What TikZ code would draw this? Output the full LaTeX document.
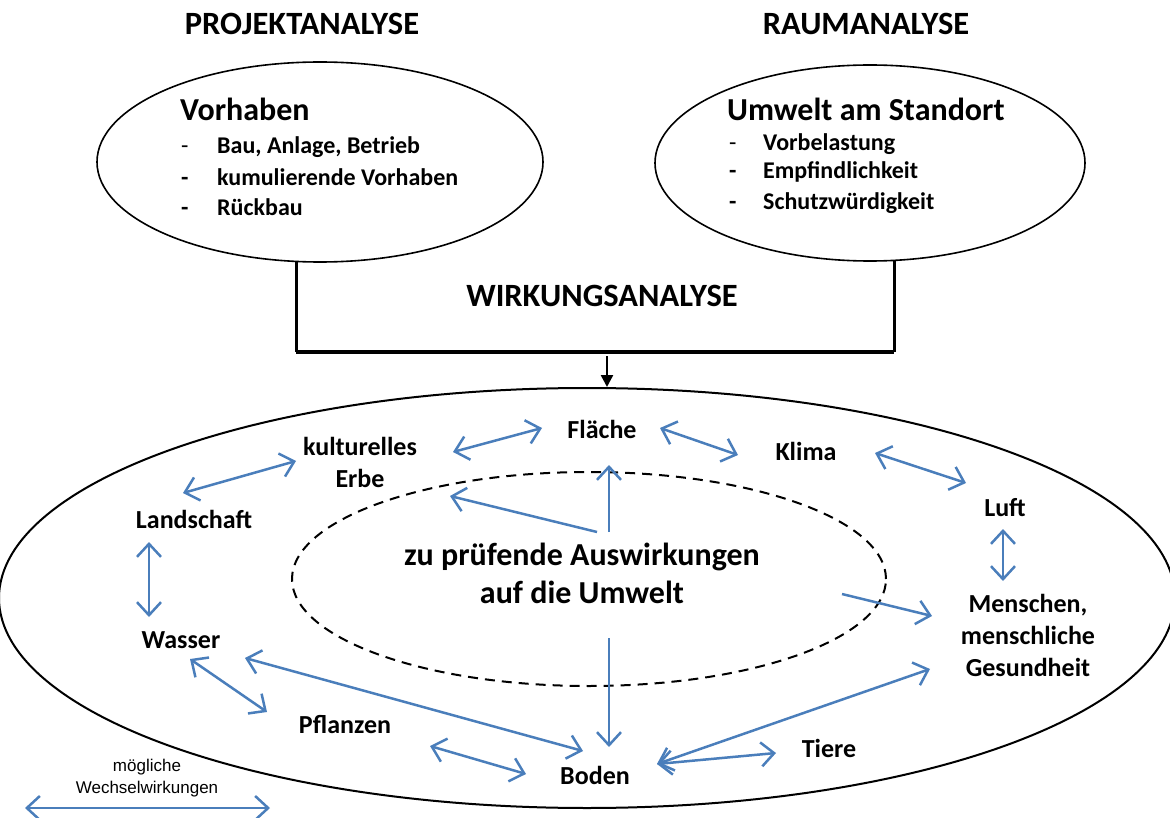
\documentclass[tikz,border=0pt]{standalone}
\usepackage{fontspec}
\setmainfont{Carlito}
\newfontfamily\arialf{Liberation Sans}
\usetikzlibrary{shapes.geometric,arrows.meta}
\definecolor{wblue}{RGB}{74,126,187}
\begin{document}
\begin{tikzpicture}[x=1pt,y=-1pt,
  title/.style={font=\bfseries\fontsize{32.5}{36}\selectfont, inner sep=0pt},
  head/.style={font=\bfseries\fontsize{32}{36}\selectfont, anchor=base west, inner sep=0pt},
  item/.style={font=\bfseries\fontsize{24}{28}\selectfont, anchor=base west, inner sep=0pt},
  lbl/.style={font=\bfseries\fontsize{26}{32}\selectfont, align=center, inner sep=0pt},
  big/.style={font=\bfseries\fontsize{32}{38}\selectfont, align=center, inner sep=0pt},
  legend/.style={font=\arialf\fontsize{17}{22}\selectfont, align=center, inner sep=0pt},
  oval/.style={draw=black, ellipse, inner sep=0pt},
  wa/.style={draw=wblue, line width=2.5pt, {Straight Barb[length=13pt,width=24pt]}-{Straight Barb[length=13pt,width=24pt]}},
  wone/.style={draw=wblue, line width=2.5pt, -{Straight Barb[length=13pt,width=24pt]}},
]
\useasboundingbox (0,0) rectangle (1170,818);

% titles
\node[title] (pa) at (302,24) {PROJEKTANALYSE};
\node[title] (ra) at (866,24) {RAUMANALYSE};

% top ellipses
\node[oval, line width=1.6pt, minimum width=446pt, minimum height=200pt] (vorh) at (320,162) {};
\node[oval, line width=1.6pt, minimum width=430pt, minimum height=196pt] (umw) at (870,163) {};

\node[head] (vh) at (180,121) {Vorhaben};
\node[item, font=\fontsize{24}{28}\selectfont] (vd1) at (181,154) {-};
\node[item] (vd2) at (181,186) {-};
\node[item] (vd3) at (181,216) {-};
\node[item] (v1) at (217,154) {Bau, Anlage, Betrieb};
\node[item] (v2) at (217,186) {kumulierende Vorhaben};
\node[item] (v3) at (217,216) {Rückbau};

\node[head] (uh) at (727,121) {Umwelt am Standort};
\node[item, font=\fontsize{24}{28}\selectfont] (ud1) at (729,151) {-};
\node[item] (ud2) at (729,179) {-};
\node[item] (ud3) at (729,210) {-};
\node[item] (u1) at (763,151) {Vorbelastung};
\node[item] (u2) at (763,179) {Empfindlichkeit};
\node[item] (u3) at (763,210) {Schutzwürdigkeit};

% bracket
\coordinate (bl) at (296,261);
\coordinate (br) at (894,260);
\coordinate (bbl) at (296,352);
\coordinate (bbr) at (894,352);
\draw[line width=3pt] (bl) -- (bbl);
\draw[line width=3pt] (br) -- (bbr);
\draw[line width=4pt] (bbl) -- (bbr);
\node[title] (wa) at (602,296) {WIRKUNGSANALYSE};

% big ellipse
\node[oval, line width=2pt, minimum width=1176pt, minimum height=420pt] (env) at (587,598) {};
\coordinate (ws) at (607,356);
\draw[line width=2.5pt, -{Triangle[length=12pt,width=12pt]}] (ws) -- (env.north -| ws);

% dashed ellipse
\node[oval, line width=2pt, dash pattern=on 10pt off 7pt, minimum width=594pt, minimum height=214pt] (imp) at (589,579) {};
\node[big] (impt) at (582,573) {zu prüfende Auswirkungen\\auf die Umwelt};

% labels
\node[lbl] (fl) at (602,429) {Fläche};
\node[lbl] (ke) at (360,462) {kulturelles\\Erbe};
\node[lbl] (kl) at (806,451) {Klima};
\node[lbl] (la) at (194,519) {Landschaft};
\node[lbl] (lu) at (1005,508) {Luft};
\node[lbl] (me) at (1028,635) {Menschen,\\menschliche\\Gesundheit};
\node[lbl] (wa2) at (181,640) {Wasser};
\node[lbl] (pf) at (345,725) {Pflanzen};
\node[lbl] (bo) at (595,775) {Boden};
\node[lbl] (ti) at (829,748) {Tiere};

% arrow end points
\coordinate (a1s) at (453,452); \coordinate (a1e) at (542,428);
\coordinate (a2s) at (660,428); \coordinate (a2e) at (738,455);
\coordinate (a3s) at (875,453); \coordinate (a3e) at (966,483);
\coordinate (a4s) at (1003,529); \coordinate (a4e) at (1003,581);
\coordinate (a5s) at (183,493); \coordinate (a5e) at (296,461);
\coordinate (a6s) at (149,542); \coordinate (a6e) at (149,617);
\coordinate (a7s) at (190,659); \coordinate (a7e) at (267,712);
\coordinate (a8s) at (245,658); \coordinate (a8e) at (583,751);
\coordinate (a9s) at (430,746); \coordinate (a9e) at (526,774);
\coordinate (a10s) at (657,764); \coordinate (a10e) at (776,753);
\coordinate (a11e) at (930,669);

\draw[wa] (a1s) -- (a1e);
\draw[wa] (a2s) -- (a2e);
\draw[wa] (a3s) -- (a3e);
\draw[wa] (a4s) -- (a4e);
\draw[wa] (a5s) -- (a5e);
\draw[wa] (a6s) -- (a6e);
\draw[wa] (a7s) -- (a7e);
\draw[wa] (a8s) -- (a8e);
\draw[wa] (a9s) -- (a9e);
\draw[wa] (a10s) -- (a10e);
\draw[wa] (a10s) -- (a11e);

% arrows from the centre
\coordinate (c1s) at (609,532); \coordinate (c1e) at (609,465);
\coordinate (c2s) at (597,532); \coordinate (c2e) at (450,496);
\coordinate (c3s) at (842,594); \coordinate (c3e) at (932,616);
\coordinate (c4s) at (609,638); \coordinate (c4e) at (609,747);
\draw[wone] (c1s) -- (c1e);
\draw[wone] (c2s) -- (c2e);
\draw[wone] (c3s) -- (c3e);
\draw[wone] (c4s) -- (c4e);

% legend
\node[legend] (lg) at (147,778) {mögliche\\Wechselwirkungen};
\coordinate (l1) at (25,808); \coordinate (l2) at (270,808);
\draw[wa] (l1) -- (l2);
\end{tikzpicture}
\end{document}
